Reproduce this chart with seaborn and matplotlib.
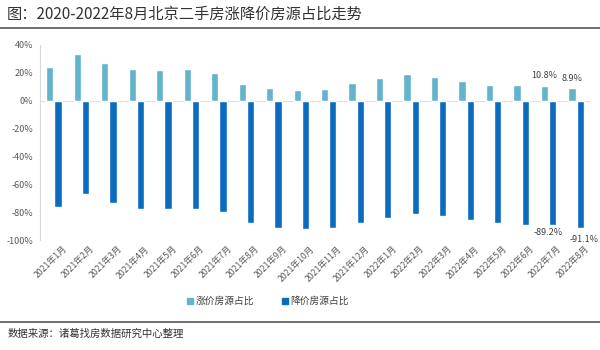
import matplotlib
matplotlib.use("Agg")
import matplotlib.pyplot as plt
import matplotlib.transforms as mtransforms
import seaborn as sns
import pandas as pd
import numpy as np
from matplotlib.lines import Line2D
from matplotlib.ticker import FuncFormatter, MultipleLocator

sns.set_theme(style="white")
plt.rcParams['font.family'] = ['Noto Sans CJK SC', 'DejaVu Sans']

months = ["2021年1月", "2021年2月", "2021年3月", "2021年4月", "2021年5月", "2021年6月",
          "2021年7月", "2021年8月", "2021年9月", "2021年10月", "2021年11月", "2021年12月",
          "2022年1月", "2022年2月", "2022年3月", "2022年4月", "2022年5月", "2022年6月",
          "2022年7月", "2022年8月"]
rise = [24.0, 33.1, 26.7, 22.9, 21.9, 22.4, 19.5, 11.9, 8.8, 7.6, 8.3, 12.4,
        16.4, 18.8, 16.9, 14.3, 11.4, 11.4, 10.8, 8.9]
fall = [-76.0, -67.1, -73.1, -77.4, -77.9, -77.4, -80.0, -87.6, -91.4, -92.1, -91.4, -87.9,
        -83.8, -81.2, -82.9, -85.5, -88.1, -89.0, -89.2, -91.1]
series = ["涨价房源占比", "降价房源占比"]
colors = ["#62b4cc", "#0b6cbf"]

df = pd.DataFrame({
    "month": months * 2,
    "value": rise + fall,
    "series": [series[0]] * len(months) + [series[1]] * len(months),
})

fig = plt.figure(figsize=(6, 3.5), dpi=100)
ax = fig.add_axes([0.067, 0.314, 0.916, 0.558])

sns.barplot(data=df, x="month", y="value", hue="series", palette=colors,
            width=0.6, gap=0.12, dodge=True, ax=ax, legend=False, saturation=1)

ax.set_ylim(-100, 40)
ax.set_xlim(-0.5, len(months) - 0.5)
ax.yaxis.set_major_locator(MultipleLocator(20))
ax.yaxis.set_major_formatter(FuncFormatter(lambda v, p: f"{v:.0f}%"))
ax.set_xlabel("")
ax.set_ylabel("")
for s in ["top", "right", "bottom"]:
    ax.spines[s].set_visible(False)
ax.spines["left"].set_color("#d9d9d9")
ax.spines["left"].set_linewidth(0.8)
ax.tick_params(axis="y", labelsize=6.5, colors="#595959", length=3, color="#d9d9d9", pad=2)
ax.tick_params(axis="x", labelsize=6.3, colors="#595959", length=0, pad=3)
ax.set_xticks(range(len(months)))
ax.set_xticklabels(months, rotation=45, ha="right", rotation_mode="anchor")
offset = mtransforms.ScaledTranslation(6 / 72, 0, fig.dpi_scale_trans)
for lab in ax.get_xticklabels():
    lab.set_transform(lab.get_transform() + offset)
ax.axhline(0, color="#f2d9d9", lw=0.8, zorder=0)
ax.grid(False)

# annotations for last two months
n = len(months)
for i in (n - 2, n - 1):
    ax.annotate(f"{rise[i]:.1f}%", xy=(i - 0.15, rise[i]), xytext=(0, 4),
                textcoords="offset points", ha="center", va="bottom",
                fontsize=6.5, color="#404040")
ax.annotate(f"{fall[n-2]:.1f}%", xy=(n - 2 + 0.15, fall[n - 2]), xytext=(-3, -2),
            textcoords="offset points", ha="center", va="top",
            fontsize=6.5, color="#404040")
ax.annotate(f"{fall[n-1]:.1f}%", xy=(n - 1 + 0.15, fall[n - 1]), xytext=(3, -5),
            textcoords="offset points", ha="center", va="top",
            fontsize=6.5, color="#404040")

# legend
handles = [Line2D([0], [0], marker="s", linestyle="", markersize=4.5,
                  markerfacecolor=c, markeredgecolor=c) for c in colors]
fig.legend(handles, series, loc="center", bbox_to_anchor=(0.445, 0.14), ncol=2,
           frameon=False, fontsize=7, handletextpad=0.1, columnspacing=2.6,
           labelcolor="#404040", handlelength=1)

# title and source
fig.text(0.012, 0.958, "图：2020-2022年8月北京二手房涨降价房源占比走势",
         fontsize=11, color="#333333", va="center", ha="left")
fig.add_artist(Line2D([0, 1], [0.92, 0.92], color="#555555", lw=1.2,
                      transform=fig.transFigure))
fig.add_artist(Line2D([0, 1], [0.08, 0.08], color="#555555", lw=1.2,
                      transform=fig.transFigure))
fig.text(0.012, 0.046, "数据来源：诸葛找房数据研究中心整理",
         fontsize=7.5, color="#333333", va="center", ha="left")

fig.savefig("out.png", dpi=100)
